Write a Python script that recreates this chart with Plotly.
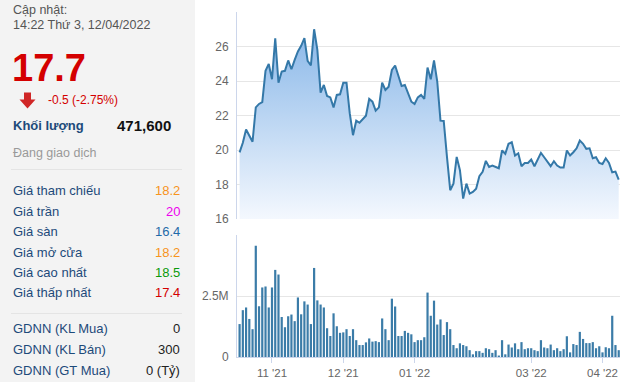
import plotly.graph_objects as go

W, H = 640, 382

# ---------------- data ----------------
price = [
    19.86, 20.42, 21.19, 20.86, 20.48, 22.47, 22.67, 22.78, 24.59, 24.99,
    24.10, 26.48, 23.90, 24.55, 24.59, 25.19, 24.68, 25.22, 25.71, 26.04,
    26.48, 25.17, 24.90, 27.00, 25.80, 23.33, 23.77, 23.13, 23.05, 22.47,
    23.19, 23.23, 23.90, 23.90, 22.12, 20.86, 21.70, 21.58, 21.79, 21.99,
    22.96, 22.80, 22.28, 22.47, 23.90, 23.48, 23.67, 24.64, 24.90, 24.35,
    23.71, 23.77, 23.29, 22.80, 22.67, 23.05, 23.19, 22.96, 24.78, 24.10,
    25.19, 23.97, 21.70, 21.68, 19.60, 17.67, 18.05, 19.60, 18.83, 17.18,
    18.05, 17.47, 17.57, 17.76, 18.48, 18.73, 19.37, 19.02, 19.10,
    19.00, 18.94, 19.97, 19.78, 20.36, 20.45, 19.68, 19.81, 19.06, 19.25,
    19.25, 19.45, 19.06, 19.48, 19.83, 19.58, 19.29, 19.06, 19.35, 19.10,
    18.98, 18.98, 19.97, 19.68, 19.87, 20.10, 20.55, 20.36, 20.07, 20.10,
    19.52, 19.58, 19.25, 19.19, 19.52, 19.25, 18.71, 18.75, 18.28,
]

volume_m = [
    1.35, 1.92, 2.03, 1.56, 1.14, 4.56, 2.08, 2.85, 2.89, 2.03,
    2.85, 3.57, 3.38, 1.64, 1.22, 1.67, 1.74, 1.47, 2.44, 1.75,
    2.28, 2.15, 1.35, 3.65, 2.32, 2.15, 2.03, 1.18, 0.86, 1.79,
    1.26, 0.99, 1.01, 1.14, 0.86, 1.14, 0.69, 0.49, 0.49, 0.60,
    0.76, 0.63, 0.65, 0.61, 1.58, 1.14, 0.69, 2.39, 2.07, 0.86,
    0.86, 1.07, 0.99, 0.93, 0.61, 0.69, 0.69, 0.81, 2.64, 1.69,
    2.31, 1.33, 1.54, 0.90, 1.43, 1.14, 0.49, 0.36, 0.56, 0.49,
    0.44, 0.28, 0.11, 0.24, 0.24, 0.17, 0.36, 0.32, 0.17,
    0.28, 0.06, 0.69, 0.11, 0.51, 0.39, 0.56, 0.32, 0.61, 0.32,
    0.36, 0.36, 0.28, 0.24, 0.69, 0.39, 0.36, 0.51, 0.28, 0.36,
    0.24, 0.32, 0.85, 0.19, 0.53, 0.49, 1.03, 0.74, 0.57, 0.57,
    0.61, 0.36, 0.44, 0.19, 0.40, 0.36, 1.69, 0.49, 0.28,
]

month_tick_idx = [10, 32, 54, 90, 112]
month_labels = ["11 '21", "12 '21", "01 '22", "03 '22", "04 '22"]
price_ticks = [16, 18, 20, 22, 24, 26, 28]
price_tick_text = ["16", "18", "20", "22", "24", "26", ""]
vol_ticks = [0, 2.5, 5]
vol_tick_text = ["0", "2.5M", ""]

update_label = "Cập nhật:"
update_time = "14:22 Thứ 3, 12/04/2022"
last_price = "17.7"
change_text = "-0.5 (-2.75%)"
volume_label = "Khối lượng"
volume_value = "471,600"
status_text = "Đang giao dịch"
info_labels = ["Giá tham chiếu", "Giá trần", "Giá sàn", "Giá mở cửa", "Giá cao nhất", "Giá thấp nhất"]
info_values = ["18.2", "20", "16.4", "18.2", "18.5", "17.4"]
gdnn_labels = ["GDNN (KL Mua)", "GDNN (KL Bán)", "GDNN (GT Mua)"]
gdnn_values = ["0", "300", "0 (Tỷ)"]

# ---------------- styles ----------------
FONT = "Arial, 'Liberation Sans', sans-serif"
info_colors = ["#f7941d", "#ee00ee", "#1f6aa8", "#f7941d", "#0a9a0a", "#d40000"]
LABEL_BLUE = "#1d4a7a"
RED = "#d40000"


def px(x):
    return x / W


def py(y):
    return 1 - y / H


x = list(range(len(price)))

fig = go.Figure()
fig.add_trace(go.Scatter(
    x=x, y=price, mode="lines", xaxis="x", yaxis="y",
    line=dict(color="#3478a8", width=2),
    fill="tozeroy",
    fillgradient=dict(type="vertical", start=16, stop=27.2,
                      colorscale=[[0, "rgba(244,248,254,1)"], [1, "rgba(135,182,232,1)"]]),
    hoverinfo="skip", showlegend=False,
))
fig.add_trace(go.Bar(
    x=x, y=volume_m, xaxis="x2", yaxis="y2",
    marker=dict(color="#3b7ca8", line=dict(width=0)),
    hoverinfo="skip", showlegend=False,
))

dom_x = [px(237), px(620)]
xr = [-0.8, 117.4]
axis_line = "#ccd6eb"
grid = "#e6e6e6"
tickfont = dict(family=FONT, size=12, color="#666666")

fig.update_layout(
    width=W, height=H,
    margin=dict(l=0, r=0, t=0, b=0),
    paper_bgcolor="white", plot_bgcolor="white",
    font=dict(family=FONT),
    bargap=0.32,
    xaxis=dict(domain=dom_x, range=xr, anchor="y", showticklabels=False, showgrid=False,
               zeroline=False, showline=False, ticks="", automargin=False),
    yaxis=dict(domain=[py(219), py(12)], range=[16, 28], anchor="x",
               tickvals=price_ticks, ticktext=price_tick_text, tickfont=tickfont,
               showgrid=True, gridcolor=grid, gridwidth=1, zeroline=False,
               showline=True, linecolor=axis_line, linewidth=1, ticks="",
               ticklabelstandoff=5, automargin=False),
    xaxis2=dict(domain=dom_x, range=xr, anchor="y2", matches="x",
                tickvals=month_tick_idx, ticktext=month_labels,
                tickfont=dict(family=FONT, size=11.5, color="#666666"),
                ticks="outside", ticklen=5, tickcolor=axis_line, tickwidth=1,
                showline=True, linecolor=axis_line, linewidth=1,
                showgrid=False, zeroline=False, automargin=False),
    yaxis2=dict(domain=[py(357), py(235)], range=[0, 5], anchor="x2",
                tickvals=vol_ticks, ticktext=vol_tick_text, tickfont=tickfont,
                showgrid=True, gridcolor=grid, gridwidth=1, zeroline=False,
                showline=True, linecolor=axis_line, linewidth=1, ticks="",
                ticklabelstandoff=5, automargin=False),
)

shapes = [
    dict(type="rect", xref="paper", yref="paper", x0=0, x1=px(195), y0=0, y1=1,
         fillcolor="#f3f3f3", line=dict(width=0), layer="below"),
    dict(type="line", xref="paper", yref="paper", x0=px(11), x1=px(182), y0=py(169.5), y1=py(169.5),
         line=dict(color="#e4e4e4", width=1)),
    dict(type="line", xref="paper", yref="paper", x0=px(11), x1=px(182), y0=py(313.5), y1=py(313.5),
         line=dict(color="#e4e4e4", width=1)),
]
# down arrow
arrow_pts = [(24, 92.5), (31, 92.5), (31, 99.5), (35.5, 99.5), (27.5, 108.5), (19.5, 99.5), (24, 99.5)]
path = "M " + " L ".join(f"{px(a):.5f},{py(b):.5f}" for a, b in arrow_pts) + " Z"
shapes.append(dict(type="path", xref="paper", yref="paper", path=path,
                   fillcolor="#d02626", line=dict(width=0)))
fig.update_layout(shapes=shapes)

ann = []


def text(t, x0, y0, size, color, anchor="left", bold=False):
    ann.append(dict(text=f"<b>{t}</b>" if bold else t, x=px(x0), y=py(y0), xref="paper", yref="paper",
                    xanchor=anchor, yanchor="middle", showarrow=False,
                    font=dict(family=FONT, size=size, color=color)))


text(update_label, 11, 10, 12.5, "#555555")
text(update_time, 11, 25, 12.5, "#555555")
text(last_price, 10, 68, 38, RED, bold=True)
text(change_text, 46, 99.5, 12, RED)
text(volume_label, 11, 125, 13, LABEL_BLUE, bold=True)
text(volume_value, 173, 125, 15, "#111111", anchor="right", bold=True)
text(status_text, 11, 153, 12.5, "#999999")

row_y = [190.7, 211, 231.7, 252, 272, 292.7]
for lab, val, col, yy in zip(info_labels, info_values, info_colors, row_y):
    text(lab, 11, yy, 13, LABEL_BLUE)
    text(val, 182, yy, 13, col, anchor="right")

g_y = [328.3, 349.3, 370]
for lab, val, yy in zip(gdnn_labels, gdnn_values, g_y):
    text(lab, 11, yy, 13, LABEL_BLUE)
    text(val, 182, yy, 13, "#222222", anchor="right")

fig.update_layout(annotations=ann)
fig.write_html("out.html",
               config={"displayModeBar": False, "staticPlot": True},
               post_script="document.body.style.margin='0';document.body.style.overflow='hidden';")
